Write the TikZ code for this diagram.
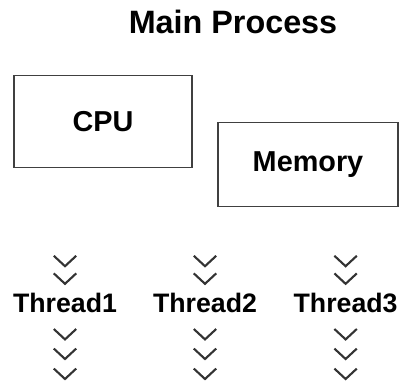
\documentclass[tikz,border=0pt]{standalone}
\usepackage{fontspec}
\setmainfont{Liberation Sans}
\usepackage{tikz}
\usetikzlibrary{shapes.geometric,arrows}
\tikzstyle{title}=[font=\fontsize{23}{27}\selectfont\bfseries,text centered]
\tikzstyle{unit}=[rectangle,minimum width=4.45cm,minimum height=2.3cm,text centered,draw=black!75,line width=0.9pt,font=\fontsize{20.5}{24}\selectfont\bfseries]
\tikzstyle{thread}=[font=\fontsize{19}{22}\selectfont\bfseries,text centered,inner sep=1pt]
\tikzstyle{chevron}=[draw=black!80,line width=1.5pt]

\begin{document}
\begin{tikzpicture}[node distance=2cm]
            \useasboundingbox (0,0) rectangle (10.075,9.575);
            \node (main)[title] at (5.825,9.025){Main Process};
            \node (cpu)[unit,below of=main,yshift=-0.4875cm,xshift=-3.25cm]{CPU};
            \node (mem)[unit,below of=main,yshift=-1.5625cm,xshift=1.875cm,minimum width=4.5cm,minimum height=2.1cm]{Memory};
            \node (t1)[thread,below of=cpu,yshift=-2.5375cm,xshift=-0.95cm]{Thread1};
            \node (t2)[thread,right of=t1,xshift=1.5cm]{Thread2};
            \node (t3)[thread,right of=t2,xshift=1.515cm]{Thread3};
            % chevrons above and below each thread
            \draw [chevron] ([shift={(-0.28,1.18)}]t1.center) -- ++(0.28,-0.26) -- ++(0.28,0.26);
            \draw [chevron] ([shift={(-0.28,0.74)}]t1.center) -- ++(0.28,-0.26) -- ++(0.28,0.26);
            \draw [chevron] ([shift={(-0.28,-0.65)}]t1.center) -- ++(0.28,-0.26) -- ++(0.28,0.26);
            \draw [chevron] ([shift={(-0.28,-1.14)}]t1.center) -- ++(0.28,-0.26) -- ++(0.28,0.26);
            \draw [chevron] ([shift={(-0.28,-1.64)}]t1.center) -- ++(0.28,-0.26) -- ++(0.28,0.26);
            \draw [chevron] ([shift={(-0.28,1.18)}]t2.center) -- ++(0.28,-0.26) -- ++(0.28,0.26);
            \draw [chevron] ([shift={(-0.28,0.74)}]t2.center) -- ++(0.28,-0.26) -- ++(0.28,0.26);
            \draw [chevron] ([shift={(-0.28,-0.65)}]t2.center) -- ++(0.28,-0.26) -- ++(0.28,0.26);
            \draw [chevron] ([shift={(-0.28,-1.14)}]t2.center) -- ++(0.28,-0.26) -- ++(0.28,0.26);
            \draw [chevron] ([shift={(-0.28,-1.64)}]t2.center) -- ++(0.28,-0.26) -- ++(0.28,0.26);
            \draw [chevron] ([shift={(-0.28,1.18)}]t3.center) -- ++(0.28,-0.26) -- ++(0.28,0.26);
            \draw [chevron] ([shift={(-0.28,0.74)}]t3.center) -- ++(0.28,-0.26) -- ++(0.28,0.26);
            \draw [chevron] ([shift={(-0.28,-0.65)}]t3.center) -- ++(0.28,-0.26) -- ++(0.28,0.26);
            \draw [chevron] ([shift={(-0.28,-1.14)}]t3.center) -- ++(0.28,-0.26) -- ++(0.28,0.26);
            \draw [chevron] ([shift={(-0.28,-1.64)}]t3.center) -- ++(0.28,-0.26) -- ++(0.28,0.26);
        \end{tikzpicture}
\end{document}
